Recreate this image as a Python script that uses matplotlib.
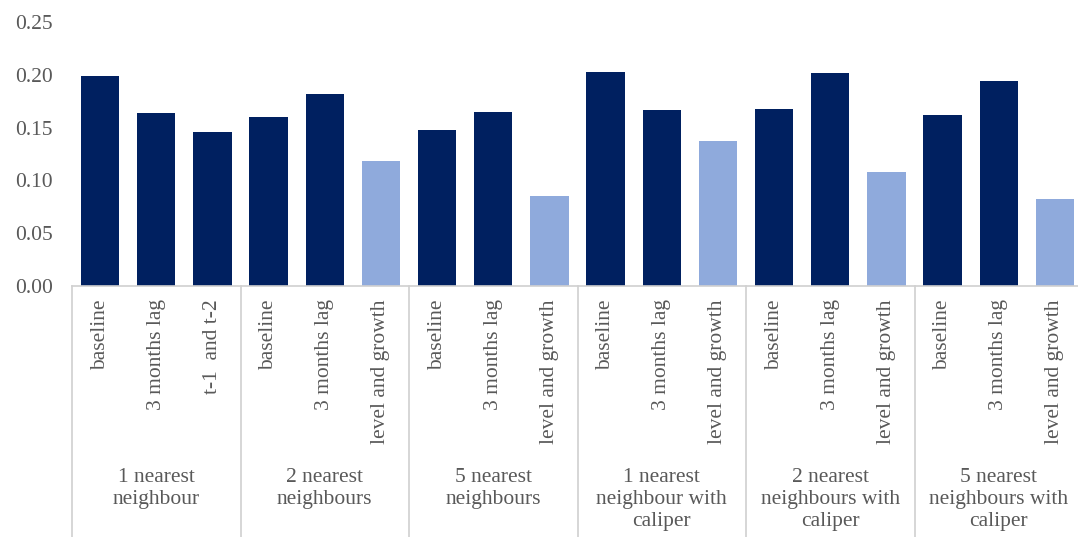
import matplotlib.pyplot as plt

# data
groups = ["1 nearest\nneighbour", "2 nearest\nneighbours", "5 nearest\nneighbours",
          "1 nearest\nneighbour with\ncaliper", "2 nearest\nneighbours with\ncaliper",
          "5 nearest\nneighbours with\ncaliper"]
specs = ["baseline", "3 months lag", "t-1  and t-2",
         "baseline", "3 months lag", "level and growth",
         "baseline", "3 months lag", "level and growth",
         "baseline", "3 months lag", "level and growth",
         "baseline", "3 months lag", "level and growth",
         "baseline", "3 months lag", "level and growth"]
values = [0.199, 0.164, 0.146,
          0.160, 0.182, 0.118,
          0.148, 0.165, 0.085,
          0.203, 0.167, 0.137,
          0.168, 0.202, 0.108,
          0.162, 0.194, 0.082]
light = [False, False, False, False, False, True,
         False, False, True, False, False, True,
         False, False, True, False, False, True]

dark_col = "#002060"
light_col = "#8faadc"
text_col = "#595959"
line_col = "#d0d0d0"

plt.rcParams["font.family"] = ["Liberation Serif", "DejaVu Serif"]

W, H = 1078, 537
fig = plt.figure(figsize=(W / 100, H / 100), dpi=100)
x0, x1, y0, y1 = 72, 1083, 286, 22
ax = fig.add_axes([x0 / W, (H - y0) / H, (x1 - x0) / W, (y0 - y1) / H])

def ay(py):
    # pixel row -> axes y coordinate
    return (y0 - py) / (y0 - y1)

xs = list(range(len(values)))
colors = [light_col if l else dark_col for l in light]
ax.bar(xs, values, width=0.68, color=colors, zorder=2)

ax.set_xlim(-0.5, len(values) - 0.5)
ax.set_ylim(0, 0.25)
ax.set_yticks([0, 0.05, 0.10, 0.15, 0.20, 0.25])
ax.set_yticklabels(["%.2f" % v for v in ax.get_yticks()])
ax.tick_params(axis="y", length=0, pad=14, labelsize=15.5, labelcolor=text_col)
ax.set_xticks([])
for s in ["top", "right", "left"]:
    ax.spines[s].set_visible(False)
ax.spines["bottom"].set_color(line_col)
ax.spines["bottom"].set_linewidth(1.2)

tr = ax.get_xaxis_transform()
for x, lab in zip(xs, specs):
    ax.text(x, ay(299), lab, rotation=90, ha="center", va="top",
            fontsize=15.5, color=text_col, transform=tr)

for g, name in enumerate(groups):
    ax.text(3 * g + 1, ay(468), name, ha="center", va="top", fontsize=15.5,
            color=text_col, transform=tr, linespacing=1.2)

for b in range(len(groups) + 1):
    ax.plot([3 * b - 0.5, 3 * b - 0.5], [0, ay(H + 5)], color=line_col, lw=1.2,
            transform=tr, clip_on=False)

fig.savefig("out.png", dpi=100)
